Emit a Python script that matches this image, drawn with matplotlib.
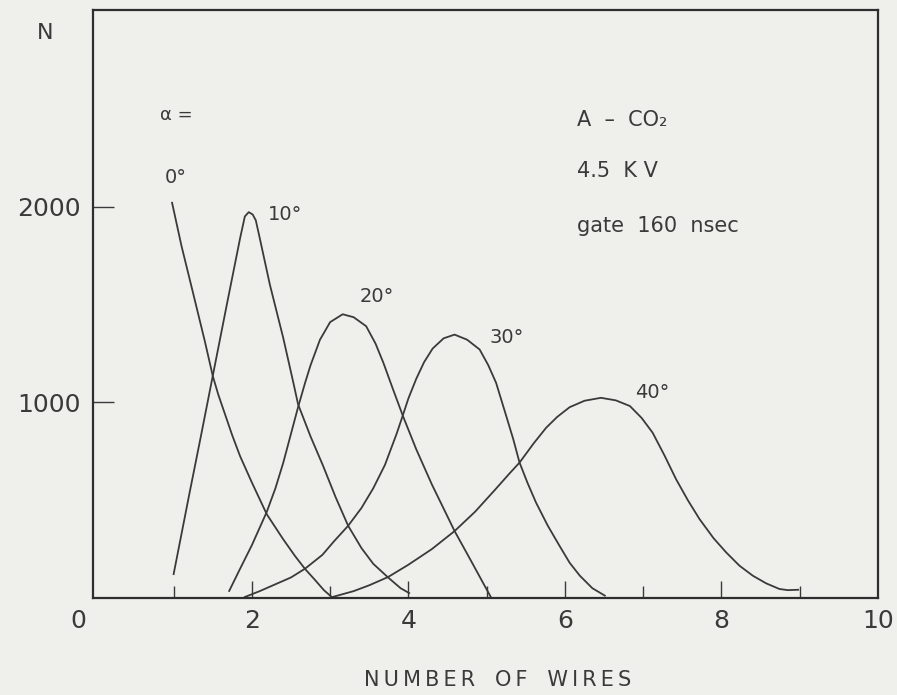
import numpy as np
from matplotlib import pyplot as plt
from matplotlib import transforms


# curves, one per angle (wires, counts)
x_0 = [0.98, 1.1, 1.25, 1.4, 1.5, 1.57, 1.75, 1.85, 2.0, 2.19, 2.4, 2.55, 2.68, 2.8, 2.92, 3.02]
n_0 = [2020, 1800, 1556, 1310, 1135, 1040, 830, 724, 590, 428, 300, 215, 148, 95, 40, 5]

x_10 = [1.0, 1.2, 1.35, 1.5, 1.68, 1.78, 1.85, 1.91, 1.96, 2.01, 2.05, 2.10, 2.23, 2.40, 2.53,
        2.59, 2.75, 2.91, 3.07, 3.23, 3.4, 3.55, 3.74, 3.9, 4.01]
n_10 = [122, 530, 830, 1135, 1500, 1700, 1840, 1950, 1972, 1960, 1930, 1840, 1601, 1330, 1100,
        990, 825, 675, 515, 369, 255, 175, 105, 50, 25]

x_20 = [1.71, 1.85, 2.0, 2.19, 2.3, 2.4, 2.5, 2.59, 2.68, 2.75, 2.87, 3.0, 3.16, 3.3, 3.46, 3.58,
        3.68, 3.8, 3.93, 4.1, 4.3, 4.59, 4.8, 4.95, 5.06]
n_20 = [36, 150, 270, 440, 560, 690, 840, 975, 1100, 1190, 1320, 1410, 1450, 1435, 1389, 1300,
        1202, 1070, 930, 760, 580, 342, 190, 80, 0]

x_30 = [1.91, 2.1, 2.3, 2.5, 2.68, 2.9, 3.05, 3.23, 3.4, 3.55, 3.7, 3.85, 3.93, 4.0, 4.1, 4.2,
        4.31, 4.45, 4.59, 4.75, 4.91, 5.02, 5.12, 5.25, 5.34, 5.42, 5.52, 5.63, 5.78, 5.93, 6.06,
        6.19, 6.35, 6.51]
n_30 = [5, 35, 70, 105, 150, 220, 290, 369, 460, 560, 680, 840, 935, 1020, 1120, 1205,
        1275, 1327, 1346, 1320, 1270, 1190, 1100, 930, 811, 692, 590, 488, 370, 267, 180,
        114, 50, 12]

x_40 = [3.03, 3.3, 3.5, 3.74, 4.0, 4.3, 4.59, 4.85, 5.1, 5.3, 5.42, 5.6, 5.76, 5.9, 6.06, 6.25,
        6.46, 6.65, 6.83, 6.98, 7.12, 7.27, 7.42, 7.57, 7.72, 7.9, 8.06, 8.23, 8.40, 8.57, 8.74,
        8.85, 8.98]
n_40 = [5, 35, 65, 107, 170, 250, 342, 440, 550, 640, 692, 790, 870, 925, 975, 1008,
        1023, 1010, 981, 920, 845, 730, 607, 500, 403, 305, 233, 165, 114, 75, 46,
        40, 42]

curves = [(x_0, n_0), (x_10, n_10), (x_20, n_20), (x_30, n_30), (x_40, n_40)]

angle_labels = ['0°', '10°', '20°', '30°', '40°']
label_pos = [(0.89, 2147), (2.2, 1958), (3.38, 1540), (5.04, 1331), (6.89, 1050)]

info_lines = ['A  –  CO₂', '4.5  K V', 'gate  160  nsec']
info_y = [2443, 2183, 1902]

bg = '#efefec'
ink = '#3a3a3a'

fig = plt.figure(figsize=(8.97, 6.95), dpi=100, facecolor=bg)
ax = fig.add_axes([0.1037, 0.1396, 0.8751, 0.846])
ax.set_facecolor(bg)

for xs, ns in curves:
    ax.plot(xs, ns, color=ink, lw=1.3, solid_joinstyle='round')

ax.set_xlim(-0.03, 10)
ax.set_ylim(0, 3005)

for s in ax.spines.values():
    s.set_color('#2e2e2e')
    s.set_linewidth(1.6)

ax.set_xticks([0, 2, 4, 6, 8, 10])
ax.set_xticklabels(['0', '2', '4', '6', '8', '10'])
ax.set_xticks([1, 3, 5, 7, 9], minor=True)
ax.set_yticks([1000, 2000])
ax.set_yticklabels(['1000', '2000'])
ax.tick_params(axis='x', which='major', direction='in', length=12, width=1.0,
               colors=ink, labelsize=18, pad=8, labelcolor='#3a3a3a')
ax.tick_params(axis='x', which='minor', direction='in', length=9, width=1.0, colors=ink)
ax.tick_params(axis='y', direction='in', length=15, width=1.0, colors=ink,
               labelsize=18, pad=9, labelcolor='#3a3a3a')

# no tick marks at the corners, only labels
xt = ax.xaxis.get_major_ticks()
xt[0].tick1line.set_visible(False)
xt[-1].tick1line.set_visible(False)

# the origin label sits left of the corner in the original
lab0 = ax.get_xticklabels()[0]
lab0.set_transform(lab0.get_transform() + transforms.ScaledTranslation(-12 / 72, 0, fig.dpi_scale_trans))

fig.text(45 / 897, 1 - 33 / 695, 'N', fontsize=16, color=ink, ha='center', va='center')
xlab = '\u2009'.join('NUMBER') + '   ' + '\u2009'.join('OF') + '   ' + '\u2009'.join('WIRES')
fig.text(498 / 897, 1 - 680 / 695, xlab, fontsize=15, color=ink, ha='center', va='center')

ax.text(0.82, 2468, 'α =', fontsize=13, color=ink, va='center')
for lab, (lx, ly) in zip(angle_labels, label_pos):
    ax.text(lx, ly, lab, fontsize=14, color=ink, va='center')

for line, yy in zip(info_lines, info_y):
    ax.text(6.16, yy, line, fontsize=15, color=ink, va='center')

fig.savefig('out.png', dpi=100, facecolor=bg)
